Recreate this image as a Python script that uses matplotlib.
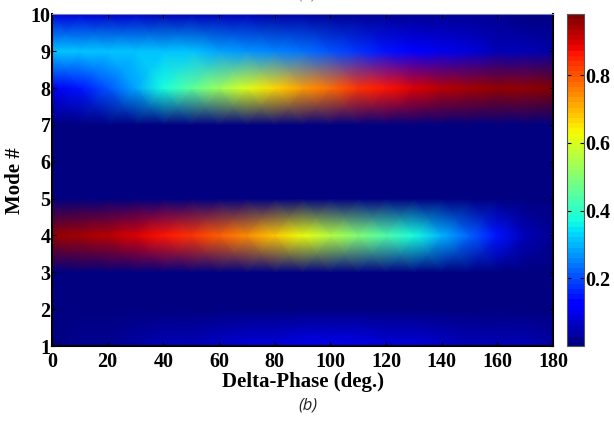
import numpy as np
import matplotlib
matplotlib.use('Agg')
import matplotlib.pyplot as plt
from matplotlib import cm, colors

## grid of the measurement
phase = [0, 10, 20, 30, 40, 50, 60, 70, 80, 90, 100, 110, 120, 130, 140, 150, 160, 170, 180]
modes = [1, 2, 3, 4, 5, 6, 7, 8, 9, 10]

## normalized power per mode (rows) vs delta-phase (columns)
m1 = [0.01, 0.02, 0.03, 0.04, 0.05, 0.06, 0.07, 0.08, 0.09, 0.10, 0.10, 0.10, 0.09, 0.08, 0.07, 0.06, 0.05, 0.05, 0.04]
m2 = [0.01, 0.01, 0.01, 0.01, 0.01, 0.01, 0.01, 0.01, 0.01, 0.01, 0.01, 0.01, 0.01, 0.01, 0.01, 0.01, 0.01, 0.01, 0.01]
m3 = [0.01, 0.01, 0.01, 0.01, 0.01, 0.01, 0.01, 0.01, 0.01, 0.01, 0.01, 0.01, 0.01, 0.01, 0.01, 0.01, 0.01, 0.01, 0.01]
m4 = [0.95, 0.94, 0.92, 0.90, 0.87, 0.83, 0.79, 0.74, 0.68, 0.62, 0.56, 0.50, 0.44, 0.38, 0.30, 0.22, 0.14, 0.05, 0.02]
m5 = [0.01, 0.01, 0.01, 0.01, 0.01, 0.01, 0.01, 0.01, 0.01, 0.01, 0.01, 0.01, 0.01, 0.01, 0.01, 0.01, 0.01, 0.01, 0.01]
m6 = [0.00, 0.00, 0.00, 0.00, 0.00, 0.00, 0.00, 0.00, 0.00, 0.00, 0.00, 0.00, 0.00, 0.00, 0.00, 0.00, 0.00, 0.00, 0.00]
m7 = [0.01, 0.01, 0.01, 0.01, 0.01, 0.01, 0.01, 0.01, 0.01, 0.01, 0.01, 0.01, 0.01, 0.01, 0.01, 0.01, 0.01, 0.01, 0.01]
m8 = [0.10, 0.14, 0.20, 0.28, 0.37, 0.45, 0.53, 0.60, 0.66, 0.72, 0.78, 0.84, 0.87, 0.90, 0.92, 0.94, 0.95, 0.96, 0.97]
m9 = [0.32, 0.32, 0.32, 0.32, 0.32, 0.31, 0.29, 0.27, 0.25, 0.23, 0.21, 0.18, 0.15, 0.12, 0.10, 0.08, 0.06, 0.05, 0.04]
m10 = [0.08, 0.08, 0.07, 0.07, 0.06, 0.06, 0.05, 0.05, 0.04, 0.04, 0.03, 0.03, 0.03, 0.02, 0.02, 0.02, 0.02, 0.01, 0.01]

cbar_ticks = [0.2, 0.4, 0.6, 0.8]
vmin, vmax = 0.0, 0.98

plt.rcParams['font.family'] = 'Liberation Serif'
plt.rcParams['font.weight'] = 'bold'

Z = np.array([m1, m2, m3, m4, m5, m6, m7, m8, m9, m10])
cmap = plt.get_cmap('jet', 64)
norm = colors.Normalize(vmin=vmin, vmax=vmax)
## matlab style interp shading: colours blended in rgb
rgb = cmap(norm(Z))[:, :, :3]

fig = plt.figure(figsize=(6.14, 4.21), dpi=100)
ax = fig.add_axes([0.0847, 0.178, 0.816, 0.788])
X, Y = np.meshgrid(phase, modes)
ax.pcolormesh(X, Y, rgb, shading='gouraud')
ax.set_xlim(0, 180)
ax.set_ylim(1, 10)
ax.set_xticks(np.arange(0, 181, 20))
ax.set_yticks(np.arange(1, 11, 1))
ax.tick_params(direction='in', length=3, labelsize=14.5, top=True, right=True)
ax.tick_params(axis='x', pad=4)
ax.tick_params(axis='y', pad=1)
for lbl in ax.get_xticklabels() + ax.get_yticklabels():
    lbl.set_fontweight('bold')
ax.set_xlabel('Delta-Phase (deg.)', fontsize=15, fontweight='bold', labelpad=0)
ax.set_ylabel('Mode #', fontsize=15, fontweight='bold', labelpad=4)
for s in ['left', 'bottom', 'right']:
    ax.spines[s].set_linewidth(1.5)
ax.spines['top'].set_linewidth(0.8)
ax.spines['top'].set_color('#7f7fbf')

## colorbar
cax = fig.add_axes([0.9235, 0.178, 0.027, 0.788])
sm = cm.ScalarMappable(norm=norm, cmap=cmap)
cb = fig.colorbar(sm, cax=cax, ticks=cbar_ticks)
cb.ax.set_yticklabels(['0.2', '0.4', '0.6', '0.8'])
cb.ax.tick_params(direction='in', length=3, labelsize=14.5, pad=1, left=True, right=True)
for lbl in cb.ax.get_yticklabels():
    lbl.set_fontweight('bold')
cb.outline.set_linewidth(0.8)
cb.outline.set_edgecolor('#555555')

## captions
fig.text(0.502, 0.036, '(b)', fontsize=12, style='italic', fontweight='normal',
         family='Open Sans', color='#222222', ha='center', va='center')
fig.text(0.502, 1.012, '(a)', fontsize=12, style='italic', fontweight='normal',
         family='Open Sans', color='#888888', ha='center', va='center')

plt.savefig('out.png', dpi=100)
